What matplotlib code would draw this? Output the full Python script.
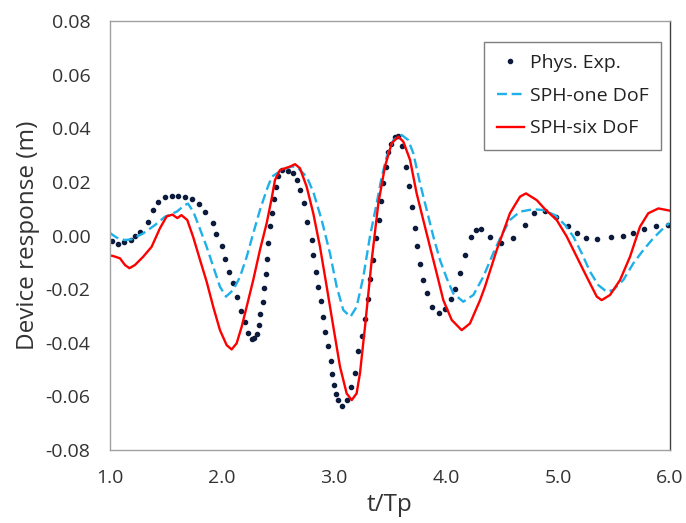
import matplotlib.pyplot as plt

plt.rcParams['font.family'] = ['Open Sans', 'DejaVu Sans']
plt.rcParams['axes.unicode_minus'] = False

# Physical experiment (dots)
phys_t = [1.015, 1.069, 1.128, 1.188, 1.223, 1.268, 1.337, 1.387, 1.431, 1.491,
          1.551, 1.610, 1.670, 1.735, 1.795, 1.845, 1.917, 1.944, 1.997, 2.027,
          2.065, 2.101, 2.131, 2.167, 2.205, 2.235, 2.265, 2.286, 2.310, 2.330,
          2.339, 2.363, 2.375, 2.393, 2.404, 2.411, 2.429, 2.444, 2.464, 2.482,
          2.497, 2.533, 2.587, 2.637, 2.672, 2.700, 2.732, 2.762, 2.801, 2.815,
          2.839, 2.860, 2.884, 2.899, 2.920, 2.949, 2.971, 2.980, 3.000, 3.018,
          3.038, 3.069, 3.113, 3.149, 3.188, 3.217, 3.247, 3.277, 3.306, 3.321,
          3.346, 3.375, 3.400, 3.417, 3.441, 3.464, 3.485, 3.506, 3.545, 3.574,
          3.604, 3.643, 3.672, 3.696, 3.723, 3.744, 3.768, 3.797, 3.828, 3.872,
          3.940, 3.991, 4.042, 4.080, 4.125, 4.170, 4.221, 4.268, 4.310, 4.393,
          4.491, 4.601, 4.705, 4.788, 4.884, 4.982, 5.087, 5.167, 5.247, 5.351,
          5.473, 5.578, 5.667, 5.768, 5.872, 5.979]
phys_y = [-0.0021, -0.0032, -0.0025, -0.0017, -0.0002, 0.0014, 0.0050, 0.0095, 0.0124, 0.0145,
          0.0149, 0.0149, 0.0144, 0.0136, 0.0116, 0.0088, 0.0048, 0.0004, -0.0039, -0.0089,
          -0.0135, -0.0176, -0.0228, -0.0281, -0.0322, -0.0363, -0.0387, -0.0384, -0.0368, -0.0334,
          -0.0294, -0.0247, -0.0195, -0.0144, -0.0089, -0.0029, 0.0035, 0.0083, 0.0135, 0.0182,
          0.0222, 0.0244, 0.0241, 0.0232, 0.0207, 0.0171, 0.0120, 0.0051, -0.0017, -0.0073,
          -0.0135, -0.0191, -0.0244, -0.0303, -0.0359, -0.0412, -0.0467, -0.0517, -0.0558, -0.0591,
          -0.0614, -0.0636, -0.0614, -0.0566, -0.0514, -0.0430, -0.0375, -0.0313, -0.0238, -0.0163,
          -0.0091, -0.0010, 0.0058, 0.0130, 0.0195, 0.0257, 0.0313, 0.0341, 0.0369, 0.0371,
          0.0334, 0.0254, 0.0185, 0.0105, 0.0027, -0.0039, -0.0106, -0.0166, -0.0213, -0.0268,
          -0.0290, -0.0275, -0.0238, -0.0201, -0.0139, -0.0073, -0.0007, 0.0021, 0.0025, -0.0007,
          -0.0029, -0.0009, 0.0039, 0.0083, 0.0093, 0.0070, 0.0037, 0.0010, -0.0008, -0.0013,
          -0.0007, -0.0001, 0.0010, 0.0024, 0.0035, 0.0039]

# SPH one degree of freedom (dashed)
one_t = [1.000, 1.024, 1.074, 1.134, 1.194, 1.297, 1.402, 1.491, 1.596, 1.670, 1.696,
         1.744, 1.804, 1.863, 1.922, 1.982, 2.036, 2.101, 2.161, 2.221, 2.279,
         2.339, 2.399, 2.444, 2.533, 2.622, 2.667, 2.756, 2.815, 2.890, 2.964,
         3.024, 3.083, 3.147, 3.202, 3.262, 3.321, 3.381, 3.426, 3.471, 3.530,
         3.604, 3.663, 3.708, 3.768, 3.828, 3.887, 3.946, 4.006, 4.065, 4.154,
         4.244, 4.333, 4.422, 4.497, 4.571, 4.661, 4.780, 4.869, 4.973, 5.063,
         5.137, 5.212, 5.286, 5.360, 5.435, 5.494, 5.583, 5.672, 5.762, 5.851,
         5.940, 5.994]
one_y = [0.0010, 0.0002, -0.0011, -0.0017, -0.0014, 0.0008, 0.0039, 0.0070, 0.0089, 0.0114, 0.0119,
         0.0089, 0.0024, -0.0042, -0.0116, -0.0191, -0.0228, -0.0203, -0.0154, -0.0079, 0.0008,
         0.0095, 0.0170, 0.0219, 0.0244, 0.0257, 0.0257, 0.0219, 0.0163, 0.0058, -0.0066,
         -0.0191, -0.0278, -0.0303, -0.0266, -0.0154, -0.0004, 0.0120, 0.0219, 0.0294, 0.0356,
         0.0375, 0.0356, 0.0307, 0.0195, 0.0095, -0.0004, -0.0091, -0.0159, -0.0216, -0.0247,
         -0.0222, -0.0154, -0.0066, 0.0002, 0.0058, 0.0089, 0.0098, 0.0095, 0.0076, 0.0039,
         -0.0004, -0.0066, -0.0135, -0.0185, -0.0210, -0.0203, -0.0166, -0.0104, -0.0054, -0.0010,
         0.0027, 0.0046]

# SPH six degrees of freedom (solid)
six_t = [1.000, 1.024, 1.089, 1.134, 1.174, 1.223, 1.297, 1.372, 1.446, 1.506, 1.558,
         1.601, 1.638, 1.690, 1.744, 1.804, 1.863, 1.922, 1.982, 2.042, 2.086,
         2.131, 2.176, 2.235, 2.279, 2.339, 2.399, 2.444, 2.473, 2.518, 2.607,
         2.652, 2.696, 2.756, 2.815, 2.875, 2.935, 2.994, 3.054, 3.113, 3.158,
         3.202, 3.232, 3.277, 3.337, 3.396, 3.455, 3.515, 3.574, 3.619, 3.679,
         3.738, 3.797, 3.857, 3.917, 3.976, 4.051, 4.140, 4.214, 4.304, 4.348,
         4.453, 4.571, 4.661, 4.714, 4.810, 4.884, 4.988, 5.078, 5.167, 5.256,
         5.346, 5.390, 5.464, 5.554, 5.643, 5.732, 5.806, 5.896, 5.994]
six_y = [-0.0075, -0.0076, -0.0085, -0.0110, -0.0122, -0.0110, -0.0079, -0.0042, 0.0027, 0.0071, 0.0078,
         0.0065, 0.0076, 0.0058, -0.0007, -0.0091, -0.0172, -0.0266, -0.0353, -0.0409, -0.0425,
         -0.0402, -0.0340, -0.0241, -0.0166, -0.0054, 0.0046, 0.0139, 0.0207, 0.0244, 0.0257,
         0.0266, 0.0251, 0.0182, 0.0083, -0.0042, -0.0191, -0.0340, -0.0490, -0.0589, -0.0614,
         -0.0589, -0.0514, -0.0340, -0.0091, 0.0120, 0.0257, 0.0344, 0.0369, 0.0350, 0.0282,
         0.0157, 0.0058, -0.0042, -0.0141, -0.0241, -0.0315, -0.0353, -0.0328, -0.0241, -0.0191,
         -0.0054, 0.0083, 0.0145, 0.0157, 0.0132, 0.0098, 0.0058, -0.0004, -0.0079, -0.0154,
         -0.0228, -0.0241, -0.0222, -0.0166, -0.0079, 0.0033, 0.0083, 0.0101, 0.0093]

x_ticks = [1.0, 2.0, 3.0, 4.0, 5.0, 6.0]
y_ticks = [-0.08, -0.06, -0.04, -0.02, 0.00, 0.02, 0.04, 0.06, 0.08]

fig = plt.figure(figsize=(6.86, 5.23), dpi=100)
ax = fig.add_axes([0.1603, 0.1396, 0.8164, 0.8202])

ax.plot(phys_t, phys_y, linestyle='none', marker='o', markersize=3.0,
        color='#0c1a3c', label='Phys. Exp.')
ax.plot(one_t, one_y, color='#1eb0e8', linewidth=1.7,
        linestyle=(0, (4.2, 2.0)), label='SPH-one DoF')
ax.plot(six_t, six_y, color='#ff0000', linewidth=1.7, label='SPH-six DoF')

ax.set_xlim(1.0, 6.0)
ax.set_ylim(-0.08, 0.08)
ax.set_xticks(x_ticks)
ax.set_yticks(y_ticks)
ax.set_xticklabels([f'{v:.1f}' for v in x_ticks])
ax.set_yticklabels([f'{v:.2f}' for v in y_ticks])
ax.tick_params(length=0, labelsize=14, colors='#333333')
ax.tick_params(axis='y', pad=14)
ax.tick_params(axis='x', pad=14)

for side in ['left', 'bottom', 'top']:
    ax.spines[side].set_color('#a0a0a0')
    ax.spines[side].set_linewidth(1.0)
ax.spines['right'].set_color('#404040')
ax.spines['right'].set_linewidth(1.0)

ax.set_xlabel('t/Tp', fontsize=17.5, color='#333333', labelpad=4)
ax.set_ylabel('Device response (m)', fontsize=17.5, color='#333333', labelpad=4)

leg = ax.legend(loc='upper left', bbox_to_anchor=(0.668, 0.952), fontsize=14,
                frameon=True, fancybox=False, edgecolor='#7f7f7f', framealpha=1,
                handlelength=1.4, handletextpad=0.3, labelspacing=0.75,
                borderpad=0.65, numpoints=1, borderaxespad=0)
leg.get_frame().set_linewidth(1.0)
for txt in leg.get_texts():
    txt.set_color('#222222')

fig.savefig('out.png', dpi=100)
